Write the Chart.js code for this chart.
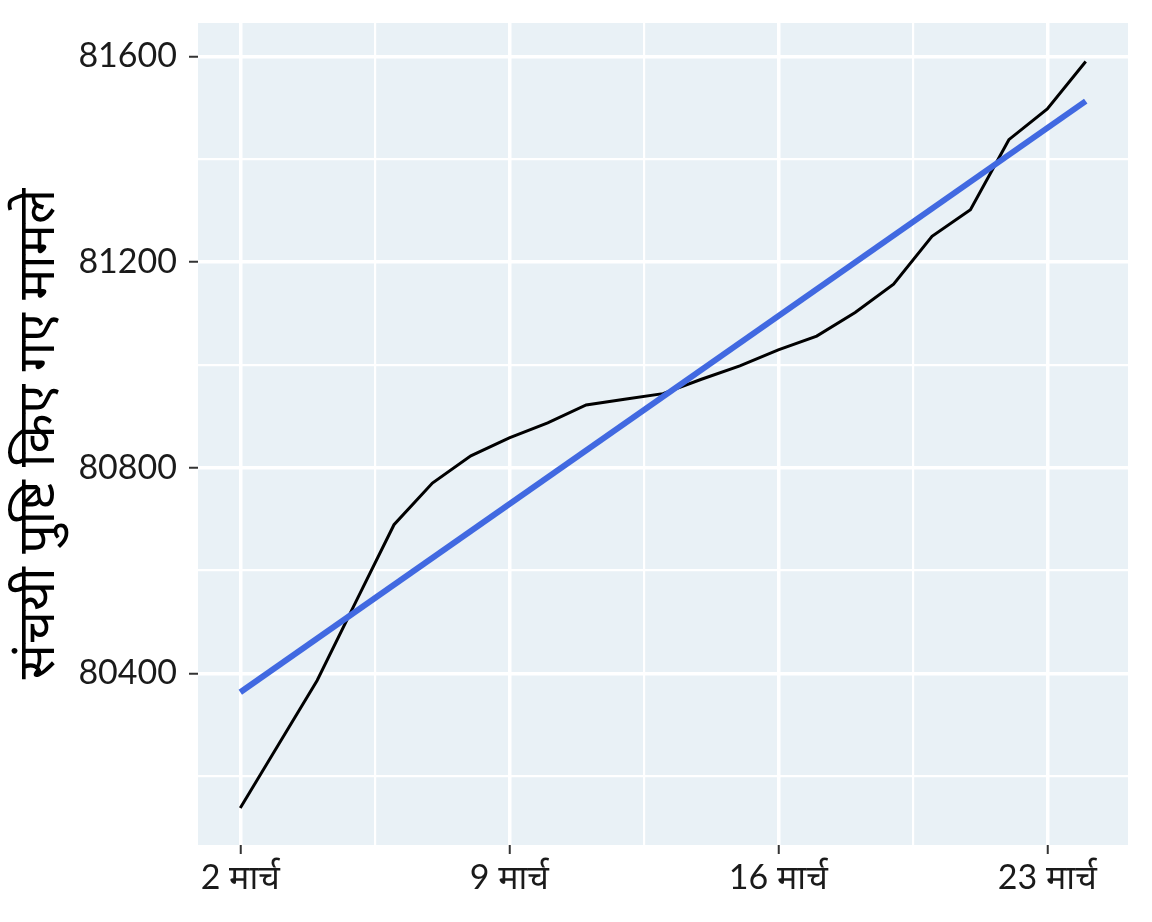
<!DOCTYPE html>
<html>
<head>
<meta charset="utf-8">
<script src="https://cdn.jsdelivr.net/npm/chart.js@4.4.1/dist/chart.umd.min.js"></script>
<style>
  body { margin: 0; background: #fff; }
  #wrap { width: 1152px; height: 922px; }
</style>
</head>
<body>
<div id="wrap"><canvas id="chart"></canvas></div>
<script>
// days of March and cumulative confirmed cases
const days = [2, 3, 4, 5, 6, 7, 8, 9, 10, 11, 12, 13, 14, 15, 16, 17, 18, 19, 20, 21, 22, 23, 24];
const cases = [80138, 80262, 80386, 80538, 80689, 80770, 80823, 80858, 80887, 80922, 80933, 80944,
               80972, 80998, 81029, 81056, 81102, 81157, 81250, 81302, 81438, 81498, 81590];

// fitted trend line (read at both ends)
const trendDays = [2, 24];
const trendCases = [80363, 81513];

const xMajor = [2, 9, 16, 23];
const xMinor = [5.5, 12.5, 19.5];
const yMajor = [80400, 80800, 81200, 81600];
const yMinor = [80200, 80600, 81000, 81400];
const monthName = 'मार्च';
const yTitle = 'संचयी पुष्टि किए गए मामले';

const tickFont = { family: 'Lato, "Noto Sans", sans-serif', size: 34 };

const panelBg = {
    id: 'panelBg',
    beforeDraw(chart) {
        const a = chart.chartArea;
        const ctx = chart.ctx;
        ctx.save();
        ctx.fillStyle = '#E9F1F6';
        ctx.fillRect(a.left, a.top, a.right - a.left, a.bottom - a.top);
        ctx.restore();
    }
};

function buildTicks(major, minor) {
    return major.concat(minor).sort((a, b) => a - b).map(v => ({ value: v }));
}

new Chart(document.getElementById('chart'), {
    type: 'line',
    data: {
        datasets: [{
            data: trendDays.map((d, i) => ({ x: d, y: trendCases[i] })),
            borderColor: '#4169E1',
            borderWidth: 6,
            pointRadius: 0,
            fill: false,
            order: 0
        }, {
            data: days.map((d, i) => ({ x: d, y: cases[i] })),
            borderColor: '#000',
            borderWidth: 3,
            pointRadius: 0,
            fill: false,
            order: 1
        }]
    },
    options: {
        responsive: true,
        maintainAspectRatio: false,
        animation: false,
        layout: { padding: { top: 23, right: 24, left: 8, bottom: 0 } },
        plugins: { legend: { display: false }, tooltip: { enabled: false } },
        scales: {
            x: {
                type: 'linear',
                min: 0.9,
                max: 25.1,
                afterBuildTicks: s => { s.ticks = buildTicks(xMajor, xMinor); },
                afterFit: s => { s.height = 77; s.paddingLeft = 0; s.paddingRight = 0; },
                border: { display: false },
                grid: {
                    color: '#fff',
                    lineWidth: c => xMajor.includes(c.tick.value) ? 3.5 : 2.2,
                    tickColor: c => xMajor.includes(c.tick.value) ? '#333' : 'rgba(0,0,0,0)',
                    tickLength: 9,
                    tickWidth: 2
                },
                ticks: {
                    autoSkip: false,
                    maxRotation: 0,
                    padding: 4,
                    color: '#1a1a1a',
                    font: tickFont,
                    callback: v => xMajor.includes(v) ? v + ' ' + monthName : ''
                }
            },
            y: {
                type: 'linear',
                min: 80066,
                max: 81665,
                afterBuildTicks: s => { s.ticks = buildTicks(yMajor, yMinor); },
                afterFit: s => { s.width = 190; s.paddingTop = 0; s.paddingBottom = 0; },
                border: { display: false },
                grid: {
                    color: '#fff',
                    lineWidth: c => yMajor.includes(c.tick.value) ? 3.5 : 2.2,
                    tickColor: c => yMajor.includes(c.tick.value) ? '#333' : 'rgba(0,0,0,0)',
                    tickLength: 9,
                    tickWidth: 2
                },
                ticks: {
                    autoSkip: false,
                    padding: 12,
                    color: '#1a1a1a',
                    font: tickFont,
                    callback: v => yMajor.includes(v) ? String(v) : ''
                },
                title: {
                    display: true,
                    text: yTitle,
                    color: '#000',
                    font: { family: '"Noto Sans Devanagari", "Noto Sans", Lato, sans-serif', size: 52 },
                    padding: { top: 5, bottom: 0 }
                }
            }
        }
    },
    plugins: [panelBg]
});
</script>
</body>
</html>
